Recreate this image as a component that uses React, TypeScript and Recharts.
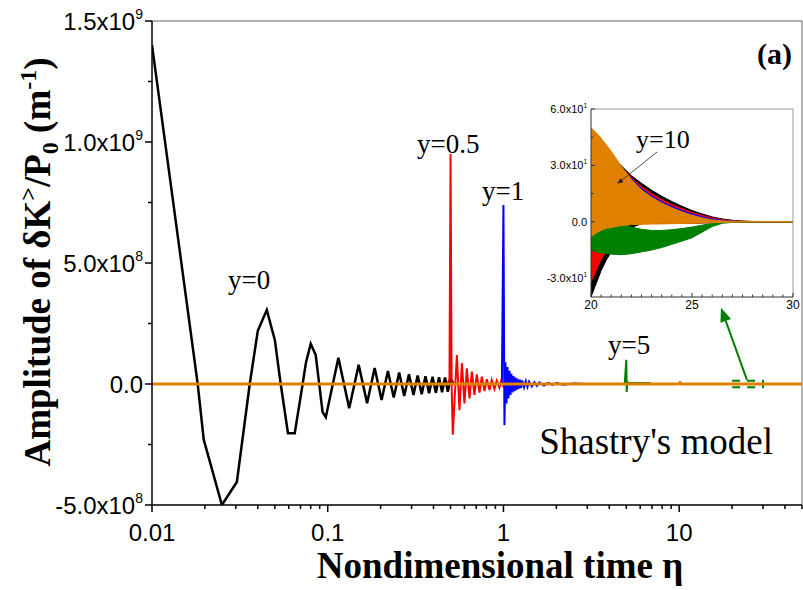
import React from 'react';
import { ComposedChart, Line, Area, XAxis, YAxis, ReferenceLine, ReferenceArea } from 'recharts';

// main plot, amplitude vs log time
const BLACK_ETA = [0.01, 0.0182, 0.0197, 0.025, 0.0304, 0.036, 0.04, 0.045, 0.05, 0.054, 0.0594, 0.0649, 0.072, 0.0751, 0.08, 0.0854, 0.0935, 0.0975, 0.115, 0.1325, 0.15, 0.1675, 0.185, 0.2025, 0.22, 0.2375, 0.255, 0.2725, 0.29, 0.3075, 0.325, 0.3425, 0.36, 0.3775, 0.395, 0.4125, 0.43, 0.4475, 0.465, 0.4825, 0.5, 0.52];
const BLACK_AMP = [1.4e9, 0, -2.3e8, -5.0e8, -4.05e8, 0, 2.2e8, 3.06e8, 1.82e8, 0, -2.03e8, -2.03e8, 0, 0.87e8, 1.66e8, 1.2e8, -1.16e8, -1.37e8, 1.08e8, -1.0e8, 0.79e8, -0.79e8, 0.66e8, -0.66e8, 0.54e8, -0.56e8, 0.47e8, -0.5e8, 0.4e8, -0.45e8, 0.35e8, -0.42e8, 0.32e8, -0.38e8, 0.3e8, -0.36e8, 0.28e8, -0.34e8, 0.27e8, -0.32e8, 0.25e8, 0];

const RED_ETA = [0.48, 0.493, 0.5, 0.507, 0.515, 0.543, 0.562, 0.58, 0.6, 0.619, 0.641, 0.661, 0.684, 0.705, 0.731, 0.753, 0.78, 0.804, 0.833, 0.858, 0.889, 0.916, 0.949, 0.97, 1.0, 1.05, 1.1, 1.2];
const RED_AMP = [0, 0.2e8, 9.5e8, 0, -2.1e8, 1.2e8, -1.08e8, 0.86e8, -0.8e8, 0.65e8, -0.6e8, 0.51e8, -0.45e8, 0.4e8, -0.36e8, 0.3e8, -0.29e8, 0.2e8, -0.25e8, 0.17e8, -0.2e8, 0.14e8, -0.15e8, 0.12e8, -0.1e8, 0.08e8, -0.07e8, 0];

const BLUE_ETA = [0.98, 1.0, 1.013, 1.027, 1.04, 1.054, 1.068, 1.082, 1.096, 1.11, 1.125, 1.14, 1.155, 1.17, 1.185, 1.2, 1.22, 1.24, 1.26, 1.28, 1.31, 1.34, 1.37, 1.4, 1.45, 1.5, 1.55, 1.6, 1.7, 1.8, 1.9, 2.0, 2.2, 2.5, 3.0];
const BLUE_AMP = [0, 7.4e8, -1.7e8, 0.9e8, -0.8e8, 0.7e8, -0.6e8, 0.55e8, -0.45e8, 0.42e8, -0.35e8, 0.33e8, -0.3e8, 0.27e8, -0.25e8, 0.22e8, -0.2e8, 0.18e8, -0.17e8, 0.15e8, -0.14e8, 0.12e8, -0.12e8, 0.1e8, -0.1e8, 0.08e8, -0.08e8, 0.07e8, -0.06e8, 0.05e8, -0.04e8, 0.04e8, -0.03e8, 0.02e8, 0];

const GREEN_ETA = [4.9, 5.0, 5.03, 5.07, 5.1, 6.8, 6.9];
const GREEN_AMP = [0, 1.0e8, -0.33e8, 0.1e8, 0.04e8, 0.04e8, 0];

const ORANGE_ETA = [0.01, 9.9, 10.1, 10.3, 50];
const ORANGE_AMP = [0, 0, 0.06e8, 0, 0];

const MAIN_X_TICKS = [0.01, 0.02, 0.03, 0.04, 0.05, 0.06, 0.07, 0.08, 0.09, 0.1, 0.2, 0.3, 0.4, 0.5, 0.6, 0.7, 0.8, 0.9, 1, 2, 3, 4, 5, 6, 7, 8, 9, 10, 20, 30, 40, 50];
const MAIN_X_MAJOR = [0.01, 0.1, 1, 10];
const MAIN_X_LABEL = ['0.01', '0.1', '1', '10'];
const MAIN_Y_TICKS = [-5e8, -2.5e8, 0, 2.5e8, 5e8, 7.5e8, 1e9, 1.25e9, 1.5e9];
const MAIN_Y_MAJOR = [-5e8, 0, 5e8, 1e9, 1.5e9];
const MAIN_Y_LABEL = ['-5.0x10', '0.0', '5.0x10', '1.0x10', '1.5x10'];
const MAIN_Y_EXP = ['8', '', '8', '9', '9'];

// inset, 20 < eta < 30, bands are [low, high] envelopes of the fast oscillation
const INSET_X = [20, 20.25, 20.5, 20.75, 21, 21.5, 22, 22.5, 23, 23.5, 24, 24.5, 25, 25.5, 26, 26.5, 27, 27.5, 28, 29, 30];
const BLACK_LO = [-40, -33, -26, -20.5, -16, -3.5, -3, -1, -0.8, -0.8, -0.8, -0.8, -0.8, -0.6, -0.5, -0.3, -0.2, -0.1, -0.1, -0.1, -0.1];
const BLACK_HI = [48, 45, 42, 38, 35, 29.8, 24.5, 20.5, 16.8, 13.6, 10.8, 8.3, 6.0, 4.2, 2.6, 1.5, 0.8, 0.4, 0.2, 0.1, 0.05];
const RED_LO = [-32, -26, -20, -16, -14, -3, -1, -0.6, -0.6, -0.6, -0.6, -0.6, -0.6, -0.5, -0.4, -0.3, -0.2, -0.1, -0.1, -0.1, -0.1];
const RED_HI = [47, 44, 41, 37, 34, 29, 23.5, 18.8, 15, 11.8, 9.2, 7, 5, 3.4, 2.1, 1.1, 0.6, 0.3, 0.15, 0.1, 0.05];
const BLUE_LO = [-10, -8, -6, -4, -2, -1, -0.5, -0.5, -0.5, -0.5, -0.5, -0.5, -0.5, -0.4, -0.3, -0.2, -0.1, -0.1, -0.1, -0.1, -0.1];
const BLUE_HI = [40, 38, 36, 33, 31, 27, 23, 17.8, 13.7, 10.7, 8.2, 6.0, 4.2, 2.7, 1.5, 0.8, 0.4, 0.2, 0.1, 0.1, 0.05];
const GREEN_LO = [-15, -16, -16.5, -16.8, -17.2, -17.5, -17, -16, -15, -13.7, -12, -10.3, -8.5, -5.5, -2.5, -0.8, -0.3, -0.2, -0.1, -0.1, -0.1];
const GREEN_HI = [-5, -3.5, -2, -1.2, -0.6, -0.5, -2.8, -4, -4.6, -4.6, -4.2, -3.6, -2.8, -1.8, -0.8, -0.2, -0.1, 0, 0, 0, 0];
const ORANGE_LO = [-8, -6, -4.5, -3.5, -3, -2, -1.5, -1.3, -1.2, -1.1, -1, -0.9, -0.8, -0.6, -0.5, -0.3, -0.2, -0.1, -0.1, -0.1, -0.1];
const ORANGE_HI = [50, 47.5, 44.5, 41, 37.5, 29.5, 22.5, 17, 13, 10, 7.5, 5.3, 3.5, 2.1, 1.0, 0.5, 0.3, 0.2, 0.1, 0.1, 0.1];

const INSET_X_TICKS = [20, 20.5, 21, 21.5, 22, 22.5, 23, 23.5, 24, 24.5, 25, 25.5, 26, 26.5, 27, 27.5, 28, 28.5, 29, 29.5, 30];
const INSET_X_MAJOR = [20, 25, 30];
const INSET_Y_TICKS = [-30, -15, 0, 15, 30, 45, 60];
const INSET_Y_MAJOR = [-30, 0, 30, 60];
const INSET_Y_LABEL = ['-3.0x10', '0.0', '3.0x10', '6.0x10'];
const INSET_Y_EXP = ['1', '', '1', '1'];

const SANS = '"Liberation Sans", Arial, sans-serif';
const SERIF = '"Liberation Serif", "Times New Roman", serif';
const ORANGE = '#E08000';
const GREEN = '#008000';

const pairs = (xs: number[], ys: number[]) => xs.map((eta, i) => ({ eta, amp: ys[i] }));
const blackData = pairs(BLACK_ETA, BLACK_AMP);
const redData = pairs(RED_ETA, RED_AMP);
const blueData = pairs(BLUE_ETA, BLUE_AMP);
const greenData = pairs(GREEN_ETA, GREEN_AMP);
const orangeData = pairs(ORANGE_ETA, ORANGE_AMP);

const insetData = INSET_X.map((x, i) => ({
  x,
  black: [BLACK_LO[i], BLACK_HI[i]],
  red: [RED_LO[i], RED_HI[i]],
  blue: [BLUE_LO[i], BLUE_HI[i]],
  green: [GREEN_LO[i], GREEN_HI[i]],
  orange: [ORANGE_LO[i], ORANGE_HI[i]],
}));

const MainXTick = (props: any) => {
  const { x, y, payload } = props;
  const i = MAIN_X_MAJOR.indexOf(payload.value);
  return (
    <g>
      <line x1={x} x2={x} y1={y} y2={y + (i >= 0 ? 7 : 4)} stroke="#000" strokeWidth={1.5} />
      {i >= 0 && (
        <text x={x} y={y + 36} textAnchor="middle" fontFamily={SANS} fontSize={24} fill="#000">
          {MAIN_X_LABEL[i]}
        </text>
      )}
    </g>
  );
};

const MainYTick = (props: any) => {
  const { x, y, payload } = props;
  const i = MAIN_Y_MAJOR.indexOf(payload.value);
  return (
    <g>
      <line x1={x} x2={x - (i >= 0 ? 7 : 4)} y1={y} y2={y} stroke="#000" strokeWidth={1.5} />
      {i >= 0 && (
        <text x={x - 9} y={y + 9} textAnchor="end" fontFamily={SANS} fontSize={24} fill="#000">
          {MAIN_Y_LABEL[i]}
          {MAIN_Y_EXP[i] && <tspan dy={-11} fontSize={14}>{MAIN_Y_EXP[i]}</tspan>}
        </text>
      )}
    </g>
  );
};

const InsetXTick = (props: any) => {
  const { x, y, payload } = props;
  const major = INSET_X_MAJOR.includes(payload.value);
  return (
    <g>
      <line x1={x} x2={x} y1={y} y2={y - (major ? 4 : 2.5)} stroke="#333" strokeWidth={1} />
      {major && (
        <text x={x} y={y + 12} textAnchor="middle" fontFamily={SANS} fontSize={12} fill="#000">
          {payload.value}
        </text>
      )}
    </g>
  );
};

const InsetYTick = (props: any) => {
  const { x, y, payload } = props;
  const i = INSET_Y_MAJOR.indexOf(payload.value);
  return (
    <g>
      <line x1={x} x2={x + (i >= 0 ? 4 : 2.5)} y1={y} y2={y} stroke="#333" strokeWidth={1} />
      {i >= 0 && (
        <text x={x - 4} y={y + 4} textAnchor="end" fontFamily={SANS} fontSize={11} fill="#000">
          {INSET_Y_LABEL[i]}
          {INSET_Y_EXP[i] && <tspan dy={-5} fontSize={6.5}>{INSET_Y_EXP[i]}</tspan>}
        </text>
      )}
    </g>
  );
};

const arrowShape = (size: number, width: number, color: string) => (props: any) => {
  const { x1, y1, x2, y2 } = props;
  const a = Math.atan2(y2 - y1, x2 - x1);
  const bx = x2 - size * Math.cos(a);
  const by = y2 - size * Math.sin(a);
  const nx = -Math.sin(a) * size * 0.4;
  const ny = Math.cos(a) * size * 0.4;
  return (
    <g>
      <line x1={x1} y1={y1} x2={bx} y2={by} stroke={color} strokeWidth={width} />
      <polygon points={`${x2},${y2} ${bx + nx},${by + ny} ${bx - nx},${by - ny}`} fill={color} />
    </g>
  );
};

export default function App() {
  return (
    <div style={{ position: 'absolute', left: 0, top: 0, width: 803, height: 590, background: '#fff' }}>
      <ComposedChart width={803} height={590} margin={{ top: 21, right: 1, bottom: 0, left: 0 }}>
        <XAxis
          dataKey="eta"
          type="number"
          scale="log"
          domain={[0.01, 50]}
          allowDataOverflow
          ticks={MAIN_X_TICKS}
          interval={0}
          tickSize={0}
          tickMargin={0}
          tick={MainXTick}
          height={85}
          stroke="#000"
          strokeWidth={1.5}
        />
        <YAxis
          dataKey="amp"
          type="number"
          domain={[-5e8, 1.5e9]}
          allowDataOverflow
          ticks={MAIN_Y_TICKS}
          interval={0}
          tickSize={0}
          tickMargin={0}
          tick={MainYTick}
          width={152}
          stroke="#000"
          strokeWidth={1.5}
        />
        <ReferenceLine y={1.5e9} stroke="#666" strokeWidth={1} />
        <ReferenceLine x={50} stroke="#666" strokeWidth={1} />
        <Line data={blackData} dataKey="amp" type="linear" stroke="#000" strokeWidth={2.5} dot={false} isAnimationActive={false} />
        <Line data={redData} dataKey="amp" type="linear" stroke="#FF0000" strokeWidth={2} dot={false} isAnimationActive={false} />
        <Line data={blueData} dataKey="amp" type="linear" stroke="#0000FF" strokeWidth={2} dot={false} isAnimationActive={false} />
        <Line data={greenData} dataKey="amp" type="linear" stroke={GREEN} strokeWidth={2} dot={false} isAnimationActive={false} />
        <Line data={orangeData} dataKey="amp" type="linear" stroke={ORANGE} strokeWidth={3} dot={false} isAnimationActive={false} />
        <ReferenceArea x1={20} x2={30} y1={-1.3e7} y2={1.3e7} fill="none" stroke={GREEN} strokeWidth={2} strokeDasharray="8 7" />
        <ReferenceLine
          segment={[{ x: 24.3, y: 1.7e7 }, { x: 17.3, y: 3.15e8 }]}
          ifOverflow="visible"
          shape={arrowShape(14, 2, GREEN)}
        />
      </ComposedChart>

      <div style={{ position: 'absolute', left: 520, top: 95 }}>
        <ComposedChart width={280} height={225} data={insetData} margin={{ top: 14, right: 7, bottom: 0, left: 0 }}>
          <XAxis
            dataKey="x"
            type="number"
            domain={[20, 30]}
            allowDataOverflow
            ticks={INSET_X_TICKS}
            interval={0}
            tickSize={0}
            tickMargin={0}
            tick={InsetXTick}
            height={23}
            stroke="#333"
          />
          <YAxis
            type="number"
            domain={[-40, 60]}
            allowDataOverflow
            ticks={INSET_Y_TICKS}
            interval={0}
            tickSize={0}
            tickMargin={0}
            tick={InsetYTick}
            width={71}
            stroke="#333"
          />
          <ReferenceLine y={60} stroke="#999" />
          <ReferenceLine x={30} stroke="#999" />
          <Area dataKey="black" type="linear" stroke="#000" fill="#000" fillOpacity={1} strokeWidth={1} isAnimationActive={false} />
          <Area dataKey="red" type="linear" stroke="#FF0000" fill="#FF0000" fillOpacity={1} strokeWidth={1} isAnimationActive={false} />
          <Area dataKey="blue" type="linear" stroke="#0000FF" fill="#0000FF" fillOpacity={1} strokeWidth={1} isAnimationActive={false} />
          <Area dataKey="green" type="linear" stroke={GREEN} fill={GREEN} fillOpacity={1} strokeWidth={1} isAnimationActive={false} />
          <Area dataKey="orange" type="linear" stroke={ORANGE} fill={ORANGE} fillOpacity={1} strokeWidth={1} isAnimationActive={false} />
          <ReferenceLine
            segment={[{ x: 23.28, y: 37.2 }, { x: 21.3, y: 20.2 }]}
            ifOverflow="visible"
            shape={arrowShape(6, 0.8, '#222')}
          />
        </ComposedChart>
      </div>

      <svg width={803} height={590} style={{ position: 'absolute', left: 0, top: 0, pointerEvents: 'none' }}>
        <text x={500} y={578} textAnchor="middle" fontFamily={SERIF} fontWeight="bold" fontSize={37} fill="#000">
          Nondimensional time η
        </text>
        <text transform="translate(50,262) rotate(-90)" textAnchor="middle" fontFamily={SERIF} fontWeight="bold" fontSize={37} fill="#000">
          Amplitude of δK
          <tspan dy={-14} fontSize={24}>&gt;</tspan>
          <tspan dy={14}>/P</tspan>
          <tspan dy={8} fontSize={24}>0</tspan>
          <tspan dy={-8}> (m</tspan>
          <tspan dy={-14} fontSize={24}>-1</tspan>
          <tspan dy={14}>)</tspan>
        </text>
        <text x={792} y={64} textAnchor="end" fontFamily={SERIF} fontWeight="bold" fontSize={30} fill="#000">(a)</text>
        <text x={228} y={289} fontFamily={SERIF} fontSize={27} fill="#000">y=0</text>
        <text x={417} y={153} fontFamily={SERIF} fontSize={27} fill="#000">y=0.5</text>
        <text x={482} y={200} fontFamily={SERIF} fontSize={27} fill="#000">y=1</text>
        <text x={608} y={354} fontFamily={SERIF} fontSize={27} fill="#000">y=5</text>
        <text x={636} y={148} fontFamily={SERIF} fontSize={26} fill="#000">y=10</text>
        <text x={773} y={454} textAnchor="end" fontFamily={SERIF} fontSize={37} fill="#000">Shastry's model</text>
      </svg>
    </div>
  );
}
